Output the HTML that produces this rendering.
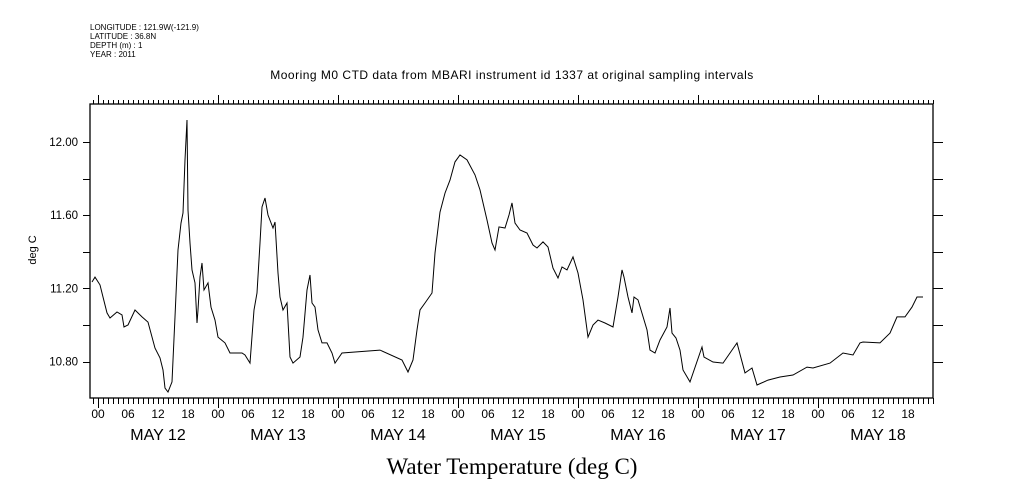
<!DOCTYPE html>
<html><head><meta charset="utf-8"><style>
html,body{margin:0;padding:0;background:#fff;}
svg{display:block;}
text{font-family:"Liberation Sans",sans-serif;fill:#000;}
</style></head><body>
<svg id="chart" width="1009" height="504" viewBox="0 0 1009 504">
<g font-size="8">
<text x="90" y="30">LONGITUDE : 121.9W(-121.9)</text>
<text x="90" y="39">LATITUDE : 36.8N</text>
<text x="90" y="48">DEPTH (m) : 1</text>
<text x="90" y="57">YEAR : 2011</text>
</g>
<text x="512" y="79" font-size="12" text-anchor="middle" letter-spacing="0.5">Mooring M0 CTD data from MBARI instrument id 1337 at original sampling intervals</text>
<text x="0" y="0" font-size="11" text-anchor="middle" transform="translate(36,250) rotate(-90)">deg C</text>
<text x="512" y="474" font-size="23" text-anchor="middle" style="font-family:'Liberation Serif',serif">Water Temperature (deg C)</text>
<g id="axes"></g>
<g id="marks"></g>
</svg>
<script>
const hours=[-1.2,-0.6,0.4,1,1.8,2.4,3.8,4.8,5.2,6,7.4,8.8,10,11.4,12.4,13,13.4,14,14.8,15.4,16,16.6,17,17.4,17.8,18,18.4,18.8,19.4,19.8,20,20.4,20.8,21.2,22,22.6,23.4,24,25.4,26.4,27,28.8,29.4,30.4,31.2,31.8,32.4,32.8,33.4,34,35,35.4,36,36.4,37,37.8,38.4,39,40.4,41,41.8,42.4,42.8,43.4,44,44.8,45.8,46.8,47.4,48.8,56.4,60.8,62,63,63.8,64.4,65.4,66.8,67.4,68.4,69.4,70.4,71.4,72.4,73.8,75.4,76.4,77.8,78.8,79.4,80.2,81.4,82.2,82.8,83.4,84.4,85.8,87,87.8,89,90,91,92,92.8,93.8,95,96,97,98,99,100,101.4,103,104,104.8,105.2,106,106.8,107.2,108,109.8,110.4,111.4,112.4,113.8,114.4,114.8,115.6,116.4,117,118.4,120.8,121.2,123,125,127.8,129.4,130.8,131.8,134,136.4,139,141.8,143,146.4,149,151,152.4,153,156.4,158.4,159.8,161.4,162.8,163.8,165,166];
const temps=[11.235,11.262,11.219,11.153,11.066,11.038,11.071,11.055,10.989,11.0,11.082,11.044,11.016,10.874,10.82,10.754,10.656,10.634,10.689,11.044,11.41,11.557,11.612,11.902,12.12,11.628,11.448,11.301,11.23,11.011,11.082,11.262,11.339,11.191,11.23,11.098,11.027,10.934,10.902,10.847,10.847,10.847,10.836,10.792,11.082,11.175,11.448,11.645,11.694,11.601,11.53,11.563,11.284,11.153,11.082,11.12,10.825,10.792,10.825,10.934,11.191,11.273,11.12,11.098,10.973,10.902,10.902,10.847,10.792,10.847,10.863,10.809,10.743,10.809,10.973,11.082,11.12,11.175,11.393,11.617,11.721,11.792,11.891,11.929,11.902,11.82,11.738,11.574,11.448,11.41,11.536,11.53,11.601,11.667,11.557,11.519,11.503,11.437,11.421,11.454,11.426,11.311,11.257,11.317,11.301,11.372,11.284,11.137,10.934,11.0,11.027,11.011,10.989,11.153,11.301,11.262,11.153,11.066,11.153,11.137,10.973,10.863,10.847,10.918,10.989,11.093,10.956,10.929,10.863,10.754,10.689,10.88,10.825,10.798,10.792,10.902,10.738,10.765,10.672,10.699,10.716,10.727,10.77,10.765,10.792,10.847,10.836,10.902,10.907,10.902,10.956,11.044,11.044,11.098,11.153,11.153];
const yTicks=[10.8,11.2,11.6,12.0];
const yMinorTicks=[10.8,11.0,11.2,11.4,11.6,11.8,12.0];
const hourLabels=["00","06","12","18"];
const dayLabels=["MAY 12","MAY 13","MAY 14","MAY 15","MAY 16","MAY 17","MAY 18"];

const L=90,R=933,T=104,B=398;
const xS=h=>98+h*5;
const yS=v=>142+(12-v)*183;
const NS='http://www.w3.org/2000/svg';
const axes=document.getElementById('axes'), marks=document.getElementById('marks');
function mk(tag,attrs,parent){const e=document.createElementNS(NS,tag);for(const k in attrs)e.setAttribute(k,attrs[k]);parent.appendChild(e);return e;}

const frame=mk('rect',{x:L,y:T,width:R-L,height:B-T,fill:'none',stroke:'#000','stroke-width':1.3},axes);



let d='';
for(let h=-1;xS(h)<=R;h++){
  const x=xS(h)+0.5; if(x<L)continue;
  const major=((h%24)+24)%24===0;
  d+=`M${x},${B}V${B+(major?10:6)}M${x},${T}V${T-(major?9:4)}`;
}
const ht=mk('path',{d:d,stroke:'#000','stroke-width':1,fill:'none'},axes);



let yd='';
yMinorTicks.forEach(v=>{const y=Math.round(yS(v))+0.5;yd+=`M${L-7},${y}H${L}M${R},${y}H${R+10}`;});
const yt=mk('path',{d:yd,stroke:'#000','stroke-width':1,fill:'none'},axes);


yTicks.forEach(v=>{
  const t=mk('text',{x:78,y:yS(v)+4,'font-size':11.5,'text-anchor':'end'},axes);
  t.textContent=v.toFixed(2);
  
  
});
dayLabels.forEach((lab,i)=>{
  hourLabels.forEach((hl,j)=>{
    const t=mk('text',{x:xS(i*24+j*6),y:418,'font-size':12,'text-anchor':'middle'},axes);
    t.textContent=hl;
    
    
  });
  const t=mk('text',{x:xS(i*24+12),y:440,'font-size':16,'text-anchor':'middle'},axes);
  t.textContent=lab;
  
  
});
const pts=hours.map((h,i)=>xS(h).toFixed(1)+','+yS(temps[i]).toFixed(1)).join(' ');
const line=mk('polyline',{points:pts,fill:'none',stroke:'#000','stroke-width':1},marks);


</script>
</body></html>
